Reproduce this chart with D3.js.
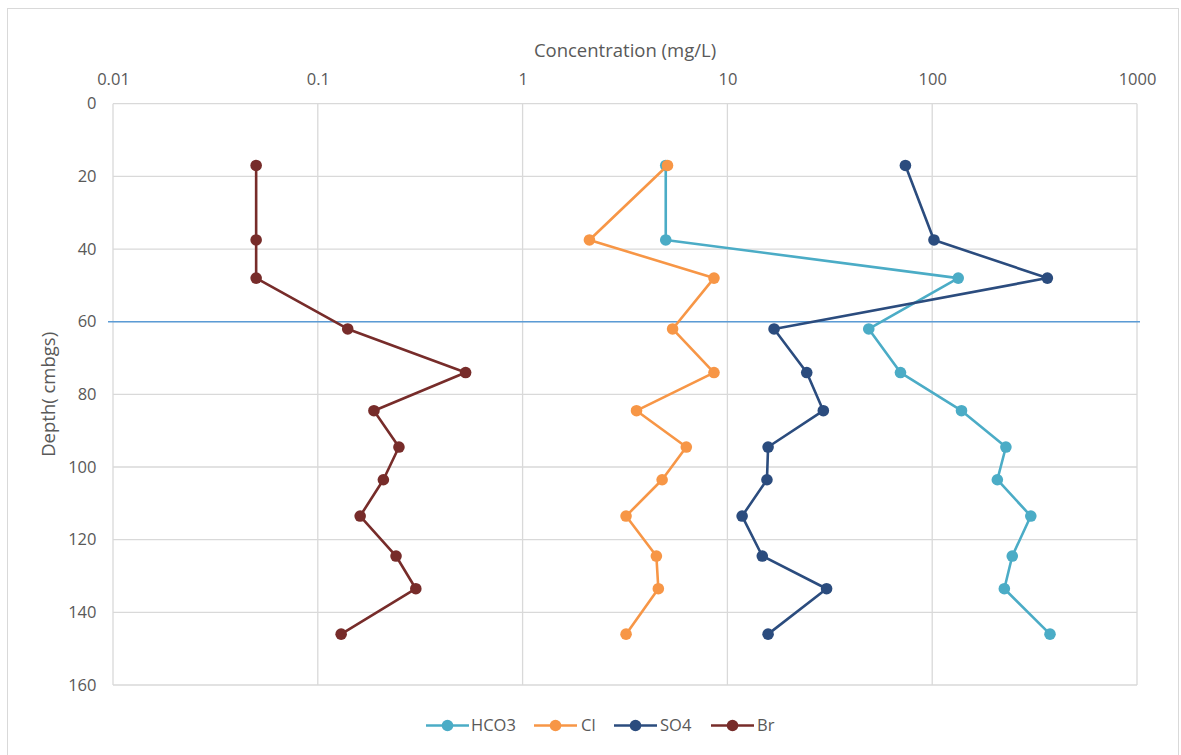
<!DOCTYPE html>
<html>
<head>
<meta charset="utf-8">
<script src="https://cdn.jsdelivr.net/npm/d3@7"></script>
<style>
  html, body { margin: 0; padding: 0; background: #ffffff; }
  svg { display: block; font-family: "Open Sans", "Noto Sans", sans-serif; }
</style>
</head>
<body>
<svg id="chart" width="1181" height="755"></svg>
<script>
// Sampling depths (cm below ground surface), shared by every analyte
const depths = [17, 37.5, 48, 62, 74, 84.5, 94.5, 103.5, 113.5, 124.5, 133.5, 146];

// Concentrations in mg/L at each depth
const hco3 = [5.0, 5.0, 134, 49, 70, 139, 229, 208, 303, 246, 225, 376];
const cl   = [5.1, 2.12, 8.6, 5.4, 8.6, 3.6, 6.3, 4.8, 3.2, 4.5, 4.6, 3.2];
const so4  = [74, 102, 365, 16.9, 24.4, 29.4, 15.8, 15.6, 11.8, 14.8, 30.5, 15.8];
const br   = [0.05, 0.05, 0.05, 0.14, 0.527, 0.188, 0.249, 0.209, 0.161, 0.241, 0.301, 0.13];

const seriesNames = ["HCO3", "Cl", "SO4", "Br"];
const seriesColors = ["#4BACC6", "#F79646", "#2B4C7E", "#772C2A"];

// Axis ticks
const xTicks = [0.01, 0.1, 1, 10, 100, 1000];
const xTickLabels = ["0.01", "0.1", "1", "10", "100", "1000"];
const yTicks = [0, 20, 40, 60, 80, 100, 120, 140, 160];

// Reference depth marked by a horizontal line
const markerDepth = 60;

const seriesValues = [hco3, cl, so4, br];

const svg = d3.select("#chart");
const W = 1181, H = 755;
const plot = { left: 113, top: 103.7, right: 1137, bottom: 685 };

const textColor = "#595959";
const gridColor = "#D9D9D9";

// Outer chart frame
svg.append("rect")
  .attr("x", 7.5).attr("y", 8.5)
  .attr("width", 1171).attr("height", 760)
  .attr("fill", "#ffffff")
  .attr("stroke", "#D9D9D9")
  .attr("stroke-width", 1);

const x = d3.scaleLog().domain([0.01, 1000]).range([plot.left, plot.right]);
const y = d3.scaleLinear().domain([0, 160]).range([plot.top, plot.bottom]);

// Grid lines
const grid = svg.append("g").attr("class", "grid");
grid.selectAll("line.v").data(xTicks).join("line")
  .attr("class", "v")
  .attr("x1", d => x(d)).attr("x2", d => x(d))
  .attr("y1", plot.top).attr("y2", plot.bottom)
  .attr("stroke", gridColor).attr("stroke-width", 1.3);
grid.selectAll("line.h").data(yTicks).join("line")
  .attr("class", "h")
  .attr("x1", plot.left).attr("x2", plot.right)
  .attr("y1", d => y(d)).attr("y2", d => y(d))
  .attr("stroke", gridColor).attr("stroke-width", 1.3);

// Top (x) axis tick labels
const xAxis = d3.axisTop(x)
  .tickValues(xTicks)
  .tickFormat((d, i) => xTickLabels[i])
  .tickSize(0)
  .tickPadding(0);
const gx = svg.append("g")
  .attr("transform", `translate(0, 85)`)
  .call(xAxis);
gx.select(".domain").remove();
gx.selectAll("text")
  .attr("fill", textColor)
  .attr("font-size", 16.5)
  .attr("font-family", "'Open Sans', sans-serif")
  .attr("dy", 0)
  .attr("y", 0);

// Left (y) axis tick labels
const yAxis = d3.axisLeft(y)
  .tickValues(yTicks)
  .tickFormat(d3.format("d"))
  .tickSize(0)
  .tickPadding(0);
const gy = svg.append("g")
  .attr("transform", `translate(96.5, 0)`)
  .call(yAxis);
gy.select(".domain").remove();
gy.selectAll("text")
  .attr("fill", textColor)
  .attr("font-size", 16.5)
  .attr("font-family", "'Open Sans', sans-serif");

// Axis titles
svg.append("text")
  .attr("x", (plot.left + plot.right) / 2)
  .attr("y", 57)
  .attr("text-anchor", "middle")
  .attr("fill", textColor)
  .attr("font-size", 18.5)
  .text("Concentration (mg/L)");

svg.append("text")
  .attr("transform", `translate(55, ${(plot.top + plot.bottom) / 2}) rotate(-90)`)
  .attr("text-anchor", "middle")
  .attr("fill", textColor)
  .attr("font-size", 18.5)
  .text("Depth( cmbgs)");

// Reference depth line
svg.append("line")
  .attr("x1", plot.left - 5).attr("x2", plot.right + 3)
  .attr("y1", y(markerDepth)).attr("y2", y(markerDepth))
  .attr("stroke", "#5B9BD5")
  .attr("stroke-width", 1.6);

// Series lines with markers
const line = d3.line()
  .x(d => x(d.v))
  .y(d => y(d.depth));

seriesValues.forEach((vals, si) => {
  const pts = vals.map((v, i) => ({ v, depth: depths[i] }));
  const g = svg.append("g").attr("class", "series-" + seriesNames[si]);
  g.append("path")
    .datum(pts)
    .attr("d", line)
    .attr("fill", "none")
    .attr("stroke", seriesColors[si])
    .attr("stroke-width", 2.6)
    .attr("stroke-linejoin", "round");
  g.selectAll("circle").data(pts).join("circle")
    .attr("cx", d => x(d.v))
    .attr("cy", d => y(d.depth))
    .attr("r", 5.8)
    .attr("fill", seriesColors[si]);
});

// Legend
const legendItems = [
  { lx: 426, tx: 471 },
  { lx: 534, tx: 581 },
  { lx: 614, tx: 660 },
  { lx: 711, tx: 757 }
];
const legendY = 725.5;
const legend = svg.append("g").attr("class", "legend");
seriesNames.forEach((name, i) => {
  const it = legendItems[i];
  legend.append("line")
    .attr("x1", it.lx).attr("x2", it.lx + 43)
    .attr("y1", legendY).attr("y2", legendY)
    .attr("stroke", seriesColors[i])
    .attr("stroke-width", 2.6);
  legend.append("circle")
    .attr("cx", it.lx + 21.5).attr("cy", legendY)
    .attr("r", 5.8)
    .attr("fill", seriesColors[i]);
  legend.append("text")
    .attr("x", it.tx).attr("y", legendY)
    .attr("dy", "0.35em")
    .attr("fill", textColor)
    .attr("font-size", 16.5)
    .text(name);
});
</script>
</body>
</html>
